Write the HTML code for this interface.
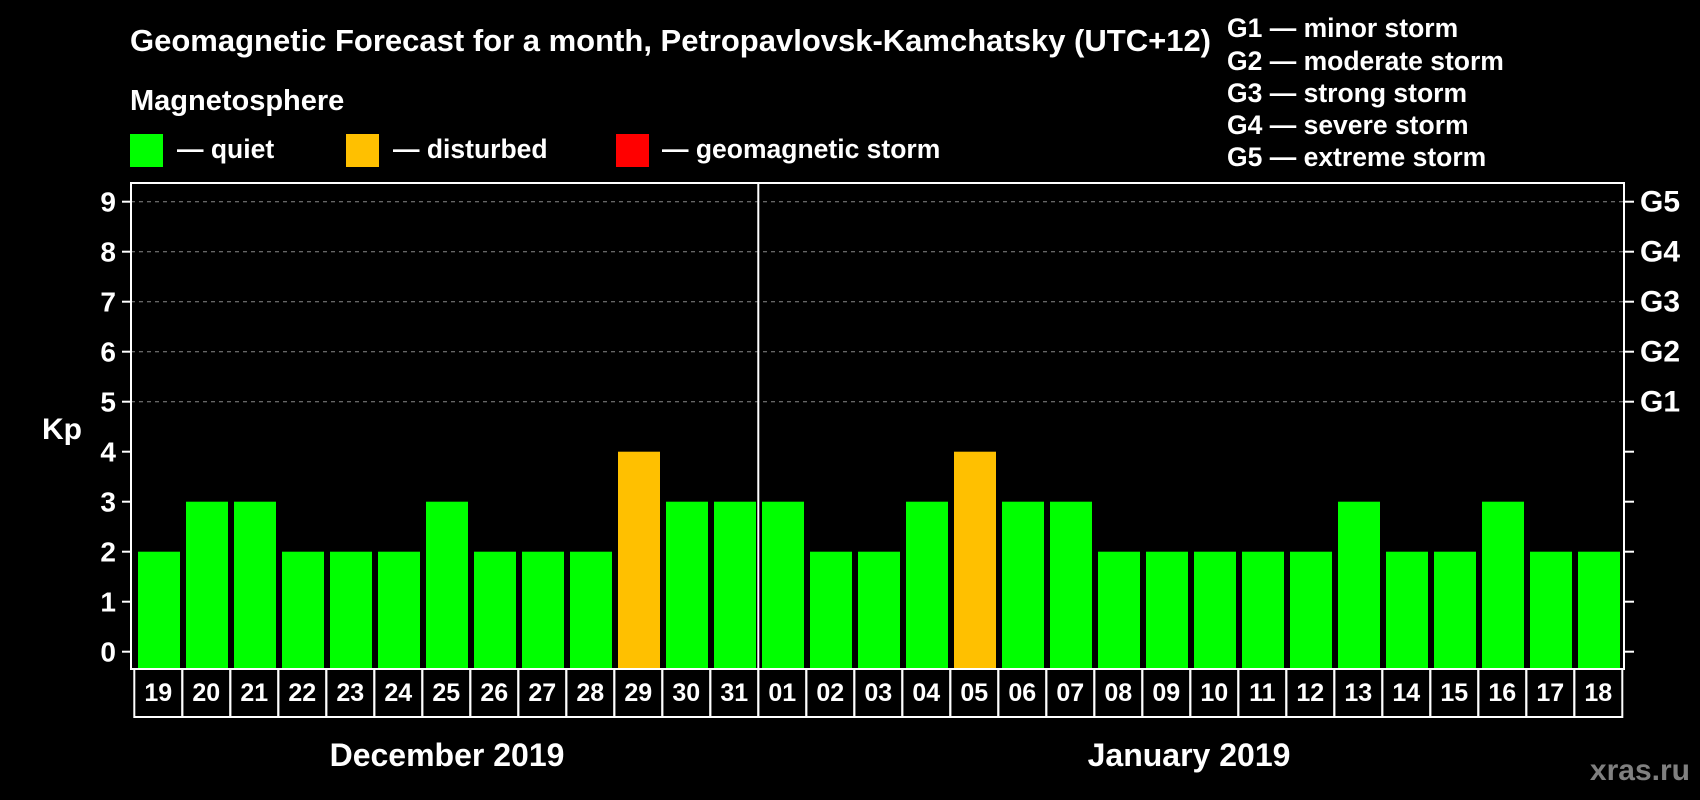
<!DOCTYPE html>
<html><head><meta charset="utf-8"><style>
html,body{margin:0;padding:0;background:#000;width:1700px;height:800px;overflow:hidden}
svg{display:block;font-family:"Liberation Sans",Arial,sans-serif;font-weight:bold}
</style></head><body>
<svg id="chart" width="1700" height="800" xmlns="http://www.w3.org/2000/svg">
<rect width="1700" height="800" fill="#000"/>
<text x="130" y="51" fill="#fff" font-size="31">Geomagnetic Forecast for a month, Petropavlovsk-Kamchatsky (UTC+12)</text>
<text x="130" y="110" fill="#fff" font-size="29">Magnetosphere</text>
<g><rect x="130" y="134" width="33" height="33" fill="#00ff00"/><text x="177" y="158" fill="#fff" font-size="26.5">— quiet</text></g>
<g><rect x="346" y="134" width="33" height="33" fill="#ffc000"/><text x="393" y="158" fill="#fff" font-size="26.5">— disturbed</text></g>
<g><rect x="616" y="134" width="33" height="33" fill="#ff0000"/><text x="662" y="158" fill="#fff" font-size="26.5">— geomagnetic storm</text></g>
<g fill="#fff" font-size="26.5">
<text x="1227" y="37">G1 — minor storm</text>
<text x="1227" y="70">G2 — moderate storm</text>
<text x="1227" y="102">G3 — strong storm</text>
<text x="1227" y="134">G4 — severe storm</text>
<text x="1227" y="166">G5 — extreme storm</text>
</g>
<text x="42" y="439" fill="#fff" font-size="30">Kp</text>
<g id="plot"></g>
<text x="447" y="766" fill="#fff" font-size="32" text-anchor="middle">December 2019</text>
<text x="1189" y="766" fill="#fff" font-size="32" text-anchor="middle">January 2019</text>
<text x="1690" y="780" fill="#808080" font-size="30" text-anchor="end">xras.ru</text>
</svg>
<script>
const days = ["19","20","21","22","23","24","25","26","27","28","29","30","31","01","02","03","04","05","06","07","08","09","10","11","12","13","14","15","16","17","18"];
const kpValues = [2,3,3,2,2,2,3,2,2,2,4,3,3,3,2,2,3,4,3,3,2,2,2,2,2,3,2,2,3,2,2];
const yTicks = [0,1,2,3,4,5,6,7,8,9];
const gLabels = ["G1","G2","G3","G4","G5"];
const gLevels = [5,6,7,8,9];
const monthBreakIndex = 13;

const NS = "http://www.w3.org/2000/svg";
const g = document.getElementById("plot");
const X0 = 134.3, SLOT = 48, Y0 = 651.7, UNIT = 50;
const PL = 131, PR = 1624, PT = 183, PB = 669;
const xs = i => X0 + i * SLOT;
const ys = v => Y0 - v * UNIT;
function mk(tag, attrs){const e=document.createElementNS(NS,tag);for(const k in attrs)e.setAttribute(k,attrs[k]);g.appendChild(e);return e;}
function col(v){return v>=5?"#ff0000":(v>=4?"#ffc000":"#00ff00");}

gLevels.forEach((lv, i) => {
  const l = mk("line",{x1:PL,x2:PR,y1:ys(lv),y2:ys(lv),stroke:"#888","stroke-width":1,"stroke-dasharray":"4,4"});
  
  
  const t = mk("text",{x:1640,y:ys(lv)+10,fill:"#fff","font-size":30});
  t.textContent = gLabels[i];
  
  
});

kpValues.forEach((v, i) => {
  const r = mk("rect",{x:xs(i)+3.7,y:ys(v),width:42,height:PB-ys(v)-1,fill:col(v)});
  
  
  const b = mk("rect",{x:xs(i),y:PB,width:SLOT,height:48,fill:"none",stroke:"#fff","stroke-width":2});
  
  
  const t = mk("text",{x:xs(i)+SLOT/2,y:PB+32,fill:"#fff","font-size":25,"text-anchor":"middle"});
  t.textContent = days[i];
  
  
});

yTicks.forEach(v => {
  const t = mk("text",{x:116,y:ys(v)+10,fill:"#fff","font-size":28,"text-anchor":"end"});
  t.textContent = v;
  
  
  const a = mk("line",{x1:122,x2:PL,y1:ys(v),y2:ys(v),stroke:"#fff","stroke-width":2});
  
  
  const c = mk("line",{x1:PR,x2:PR+10,y1:ys(v),y2:ys(v),stroke:"#fff","stroke-width":2});
  
  
});

const frame = mk("rect",{x:PL,y:PT,width:PR-PL,height:PB-PT,fill:"none",stroke:"#fff","stroke-width":2});


const sep = mk("line",{x1:xs(monthBreakIndex),x2:xs(monthBreakIndex),y1:PT,y2:PB,stroke:"#fff","stroke-width":2});


</script>
</body></html>
